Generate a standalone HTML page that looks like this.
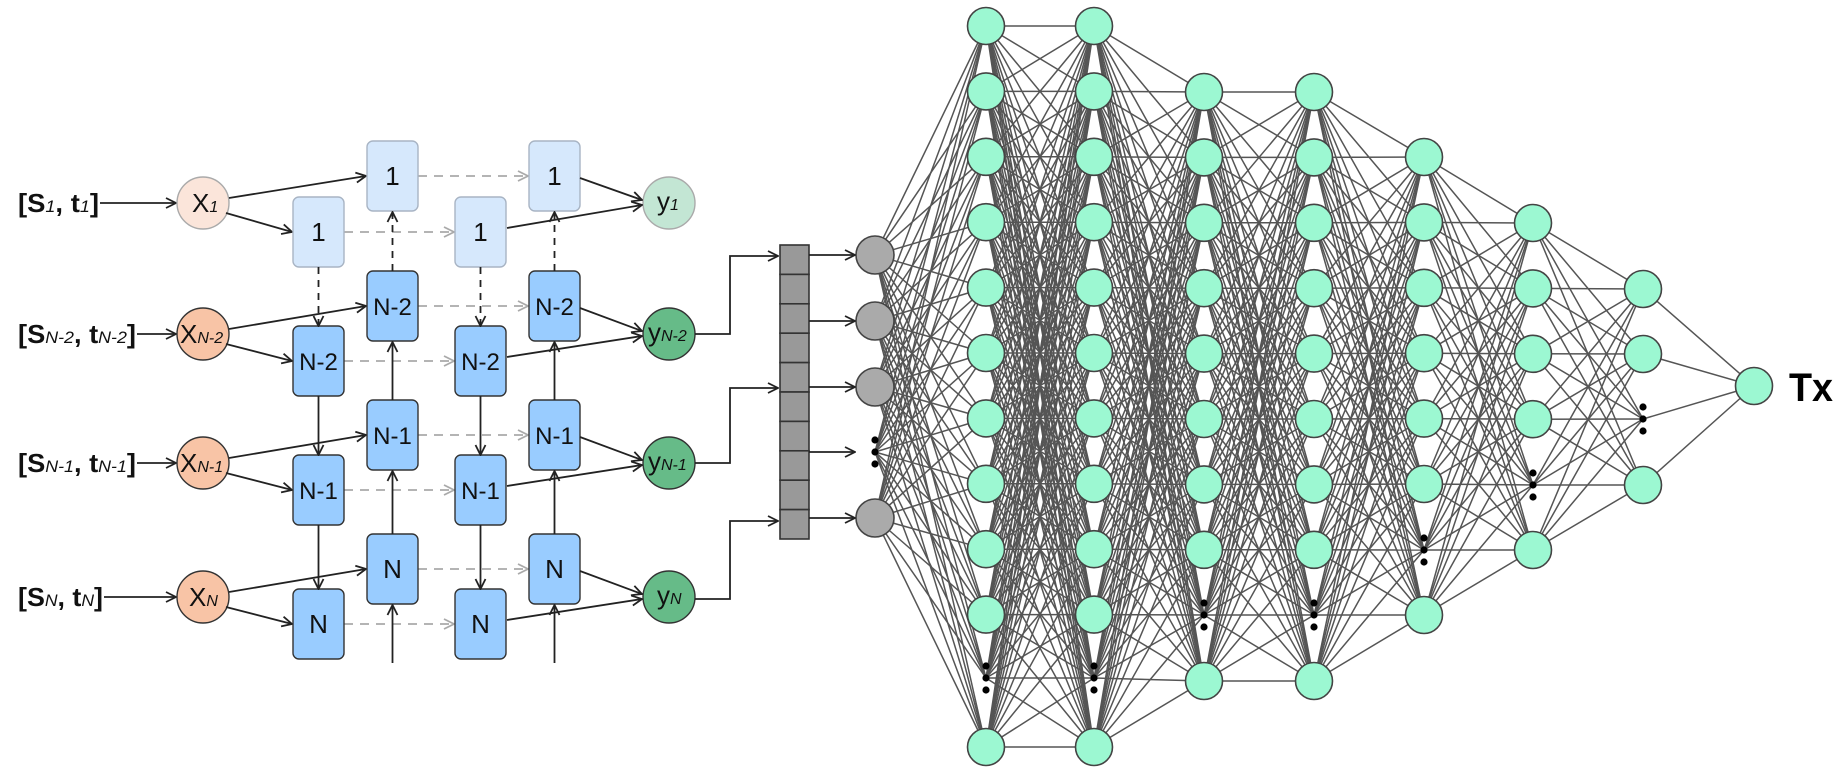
<!DOCTYPE html>
<html><head><meta charset="utf-8"><style>
html,body{margin:0;padding:0;background:#fff;}
svg{display:block;}
text{font-family:"Liberation Sans",sans-serif;}
</style></head><body>
<svg id="s" width="1847" height="775" viewBox="0 0 1847 775" xmlns="http://www.w3.org/2000/svg">
<defs>
<marker id="a" viewBox="0 0 12 12" refX="11" refY="6" markerWidth="12" markerHeight="12" markerUnits="userSpaceOnUse" orient="auto"><path d="M1,1 L11,6 L1,11" fill="none" stroke="#222" stroke-width="1.8"/></marker>
<marker id="g" viewBox="0 0 12 12" refX="11" refY="6" markerWidth="12" markerHeight="12" markerUnits="userSpaceOnUse" orient="auto"><path d="M1,1 L11,6 L1,11" fill="none" stroke="#aaa" stroke-width="1.8"/></marker>
</defs>
<g id="net" stroke="#555" stroke-width="1.5"></g>
<g id="nodes"></g>
<g id="left" font-size="26"></g>
</svg>
<script>
var NS="http://www.w3.org/2000/svg";
function el(p,t,a,txt){var e=document.createElementNS(NS,t);for(var k in a)e.setAttribute(k,a[k]);if(txt!=null)e.textContent=txt;p.appendChild(e);return e;}
var net=document.getElementById('net'),nodes=document.getElementById('nodes'),L=document.getElementById('left');
var sp=65.4;function ys(a,b){var r=[];for(var y=a;y<=b+1;y+=sp)r.push(y);return r;}
var layers=[
 {x:875,n:[255,321,387,518],d:[452],c:'#aaa'},
 {x:986,n:ys(26,615).concat([747]),d:[678]},
 {x:1094,n:ys(26,615).concat([747]),d:[678]},
 {x:1204,n:ys(92,550).concat([681]),d:[615]},
 {x:1314,n:ys(92,550).concat([681]),d:[615]},
 {x:1424,n:ys(157,485).concat([615]),d:[550]},
 {x:1533,n:ys(223,419).concat([550]),d:[485]},
 {x:1643,n:[289,354,485],d:[419]},
 {x:1754,n:[386],d:[]}
];
for(var i=0;i<layers.length-1;i++){var A=layers[i],B=layers[i+1];var pa=A.n.concat(A.d),pb=B.n.concat(B.d);
 pa.forEach(function(y1){pb.forEach(function(y2){el(net,'line',{x1:A.x,y1:y1,x2:B.x,y2:y2});});});}
layers.forEach(function(l,i){l.n.forEach(function(y){el(nodes,'circle',{cx:l.x,cy:y,r:i==0?19:18.5,fill:i==0?'#aaa':'#9cf8d2',stroke:'#444','stroke-width':1.6});});
 l.d.forEach(function(y){[-12,0,12].forEach(function(o){el(nodes,'circle',{cx:l.x,cy:y+o,r:3.6,fill:'#000'});});});});
el(nodes,'text',{x:1789,y:401,'font-size':40,'font-weight':'bold',fill:'#000',textLength:44,lengthAdjust:'spacingAndGlyphs'},'Tx');
for(var k=0;k<10;k++)el(nodes,'rect',{x:780,y:245+k*29.4,width:29,height:29.4,fill:'#999',stroke:'#333','stroke-width':1.6});
[255,321,387,452,518].forEach(function(y){el(L,'line',{x1:809,y1:y,x2:855,y2:y,stroke:'#222','stroke-width':1.8,'marker-end':'url(#a)'});});
var rows=[{y:203,s:'1'},{y:334,s:'N-2'},{y:463,s:'N-1'},{y:597,s:'N'}];
var up=[176,306,435,569],lo=[232,361,490,624];
var ends=[100,137,137,104];
var colX={A:293,B:367,C:455,D:529},W=51,H=70;
function box(x,cy,t,light){el(L,'rect',{x:x,y:cy-35,width:W,height:H,rx:6,fill:light?'#d6e8fc':'#99ccff',stroke:light?'#a8b4c4':'#333','stroke-width':1.4});
 el(L,'text',{x:x+W/2,y:cy+9,'text-anchor':'middle','font-size':t.length>1?24:26,fill:'#111'},t);}
function ln(x1,y1,x2,y2,m,col,dash){var a={x1:x1,y1:y1,x2:x2,y2:y2,stroke:col||'#222','stroke-width':1.8};if(m)a['marker-end']='url(#'+m+')';if(dash)a['stroke-dasharray']=dash;el(L,'line',a);}
rows.forEach(function(r,i){
 var light=i==0,u=up[i],l=lo[i],s=r.s;
 var t=el(L,'text',{x:18,y:r.y+9,'font-weight':'bold','font-size':26,fill:'#111',textLength:ends[i]-19,lengthAdjust:'spacingAndGlyphs'});
 el(t,'tspan',{},'[S');el(t,'tspan',{'font-size':17,'font-style':'italic','font-weight':'normal'},s);
 el(t,'tspan',{},', t');el(t,'tspan',{'font-size':17,'font-style':'italic','font-weight':'normal'},s);el(t,'tspan',{},']');
 ln(ends[i],r.y,176,r.y,'a');
 el(L,'circle',{cx:203,cy:r.y,r:26,fill:light?'#fbe5da':'#f8c4a6',stroke:light?'#aaa':'#333','stroke-width':1.4});
 var tx=el(L,'text',{x:i==0?192:(s.length>1?180:189),y:r.y+9,'font-size':26,fill:'#111'});
 el(tx,'tspan',{},'X');el(tx,'tspan',{'font-size':16,'font-style':'italic'},s);
 el(L,'circle',{cx:669,cy:r.y,r:26,fill:light?'#c3e6d4':'#66bb88',stroke:light?'#aaa':'#333','stroke-width':1.4});
 var ty=el(L,'text',{x:s.length>1?648:657,y:r.y+7,'font-size':26,fill:'#111'});
 el(ty,'tspan',{},'y');el(ty,'tspan',{'font-size':16,'font-style':'italic'},s);
 ln(229,r.y-5,366,u,'a');ln(226,r.y+10,292,l,'a');
 ln(344,l,454,l,'g','#aaa','9 7');ln(418,u,528,u,'g','#aaa','9 7');
 box(colX.A,l,s,light);box(colX.C,l,s,light);box(colX.B,u,s,light);box(colX.D,u,s,light);
 ln(580,u+2,642,r.y-3,'a');ln(507,l-4,642,r.y+2,'a');
});
function vert(x,y1,y2,dash){ln(x,y1,x,y2,'a','#222',dash);}
[318.5,480.5].forEach(function(x){vert(x,267,326,'7 6');vert(x,396,455);vert(x,525,589);});
[392.5,554.5].forEach(function(x){vert(x,663,605);vert(x,534,471);vert(x,400,342);vert(x,271,212,'7 6');});
[[695,334,256],[695,463,388],[695,599,521]].forEach(function(c){
 el(L,'polyline',{points:c[0]+','+c[1]+' 730,'+c[1]+' 730,'+c[2]+' 778,'+c[2],fill:'none',stroke:'#222','stroke-width':1.8,'marker-end':'url(#a)'});});
</script>
</body></html>
